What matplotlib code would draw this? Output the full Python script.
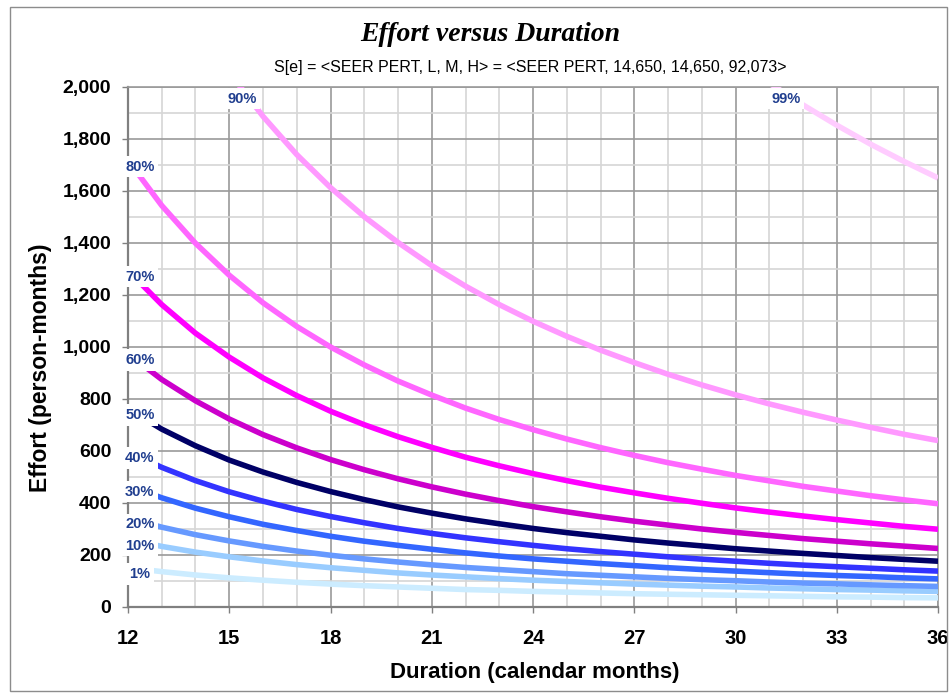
import matplotlib.pyplot as plt
from matplotlib.patches import Rectangle
from matplotlib.ticker import MultipleLocator, FuncFormatter

# duration in calendar months
months = list(range(12, 37))

# effort (person-months), one list per percentile
p99 = [7140, 6417, 5813, 5301, 4864, 4486, 4158, 3869, 3614, 3386, 3181, 2998, 2833,
       2683, 2546, 2422, 2307, 2201, 2104, 2015, 1931, 1853, 1780, 1713, 1650]
p90 = [2769, 2489, 2255, 2056, 1887, 1740, 1613, 1501, 1402, 1313, 1234, 1163, 1099,
       1041, 988, 940, 895, 854, 816, 781, 749, 719, 691, 664, 640]
p80 = [1718, 1544, 1399, 1276, 1170, 1079, 1000, 931, 869, 815, 765, 721, 682,
       646, 613, 583, 555, 530, 506, 485, 464, 446, 428, 412, 397]
p70 = [1294, 1163, 1053, 961, 881, 813, 753, 701, 655, 614, 576, 543, 513,
       486, 461, 439, 418, 399, 381, 365, 350, 336, 323, 310, 299]
p60 = [974, 875, 793, 723, 663, 612, 567, 528, 493, 462, 434, 409, 386,
       366, 347, 330, 315, 300, 287, 275, 263, 253, 243, 234, 225]
p50 = [762, 684, 620, 565, 519, 479, 444, 413, 385, 361, 339, 320, 302,
       286, 272, 258, 246, 235, 224, 215, 206, 198, 190, 183, 176]
p40 = [597, 537, 486, 443, 407, 375, 348, 324, 302, 283, 266, 251, 237,
       224, 213, 203, 193, 184, 176, 168, 161, 155, 149, 143, 138]
p30 = [467, 420, 380, 347, 318, 294, 272, 253, 237, 222, 208, 196, 185,
       176, 167, 159, 151, 144, 138, 132, 126, 121, 117, 112, 108]
p20 = [342, 307, 278, 254, 233, 215, 199, 185, 173, 162, 152, 144, 136,
       128, 122, 116, 110, 105, 101, 96, 92, 89, 85, 82, 79]
p10 = [260, 233, 211, 193, 177, 163, 151, 141, 131, 123, 116, 109, 103,
       98, 93, 88, 84, 80, 77, 73, 70, 67, 65, 62, 60]
p01 = [151, 136, 123, 112, 103, 95, 88, 82, 77, 72, 67, 64, 60,
       57, 54, 51, 49, 47, 45, 43, 41, 39, 38, 36, 35]

names = ['1%', '10%', '20%', '30%', '40%', '50%', '60%', '70%', '80%', '90%', '99%']
series = [p01, p10, p20, p30, p40, p50, p60, p70, p80, p90, p99]
colors = ['#ccecff', '#99ccff', '#6699ff', '#3366ff', '#3333ff', '#000066',
          '#cc00cc', '#ff00ff', '#ff66ff', '#ff99ff', '#ffccff']

# labels of the two curves that start above the top of the axis
top_label_x = {'90%': 15.38, '99%': 31.5}

fig = plt.figure(figsize=(9.53, 6.98), dpi=100)
fig.patches.append(Rectangle((10 / 953, 1 - 691 / 698), 937 / 953, 684 / 698,
                             transform=fig.transFigure, fill=False,
                             edgecolor='#8c8c8c', linewidth=1))
ax = fig.add_axes([0.1343, 0.1304, 0.85, 0.745])

for name, ys, c in zip(names, series, colors):
    ax.plot(months, ys, color=c, linewidth=4, solid_capstyle='butt', zorder=3)

lab_font = dict(family='Liberation Sans', weight='bold', size=10.5, color='#203e8f')
box = dict(boxstyle='square,pad=0.25', fc='white', ec='none')
for name, ys in zip(names, series):
    if name in top_label_x:
        ax.text(top_label_x[name], 1955, name, ha='center', va='center',
                bbox=box, zorder=6, clip_on=False, **lab_font)
    else:
        ax.annotate(name, xy=(months[0], ys[0]), xytext=(8.5, -4.5),
                    textcoords='offset points', ha='center', va='center',
                    bbox=box, zorder=6, annotation_clip=False, **lab_font)

ax.set_xlim(12, 36)
ax.set_ylim(0, 2000)
ax.xaxis.set_major_locator(MultipleLocator(3))
ax.xaxis.set_minor_locator(MultipleLocator(1))
ax.yaxis.set_major_locator(MultipleLocator(200))
ax.yaxis.set_minor_locator(MultipleLocator(100))
ax.yaxis.set_major_formatter(FuncFormatter(lambda v, p: f'{int(v):,}'))
ax.grid(which='major', color='#9a9a9a', linewidth=1.2, zorder=1)
ax.grid(which='minor', color='#d6d6d6', linewidth=1.2, zorder=1)
ax.set_axisbelow(True)
for s in ['left', 'bottom']:
    ax.spines[s].set_color('#808080')
    ax.spines[s].set_linewidth(1.6)
for s in ['top', 'right']:
    ax.spines[s].set_color('#9a9a9a')
    ax.spines[s].set_linewidth(1.2)
ax.tick_params(which='major', direction='out', length=4, width=1, color='#808080')
ax.tick_params(which='minor', length=0)
ax.tick_params(axis='y', pad=8)
ax.tick_params(axis='x', pad=12)
for t in ax.get_yticklabels():
    t.set_fontfamily('Liberation Sans')
    t.set_fontweight('bold')
    t.set_fontsize(14)
for t in ax.get_xticklabels():
    t.set_fontfamily(['Liberation Sans Narrow', 'Liberation Sans'])
    t.set_fontweight('bold')
    t.set_fontsize(14.5)

fig.text(0.514, 0.950, 'Effort versus Duration', ha='center', va='center',
         family='Liberation Serif', style='italic', weight='bold', size=20)
fig.text(0.556, 0.904, 'S[e] = <SEER PERT, L, M, H> = <SEER PERT, 14,650, 14,650, 92,073>',
         ha='center', va='center', family='Liberation Sans', size=11.5)
fig.text(0.561, 0.037, 'Duration (calendar months)', ha='center', va='center',
         family='Liberation Sans', weight='bold', size=16)
fig.text(0.042, 0.473, 'Effort (person-months)', ha='center', va='center',
         rotation=90, family='Liberation Sans', weight='bold', size=16.5)

fig.savefig('out.png', dpi=100)
